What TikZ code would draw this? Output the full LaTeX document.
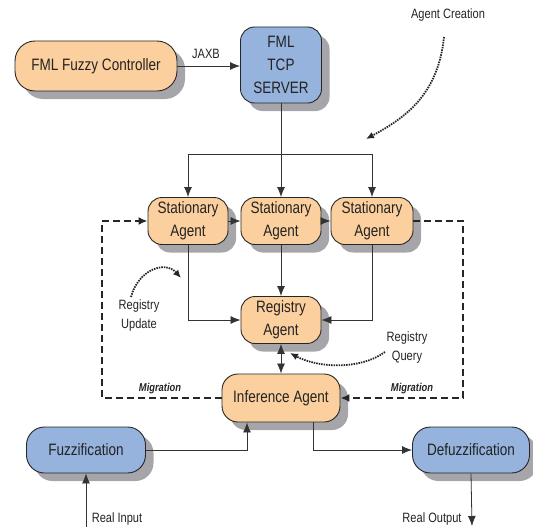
\documentclass[tikz,border=0pt]{standalone}
\usepackage{fontspec}
\setmainfont{Liberation Sans}[FakeStretch=0.82]
\usetikzlibrary{shadows,arrows.meta}
\definecolor{orangefill}{RGB}{252,208,158}
\definecolor{bluefill}{RGB}{149,179,220}
\definecolor{shgray}{RGB}{166,166,170}
\definecolor{txt}{RGB}{35,35,35}
\tikzset{
  box/.style={draw=black!85, line width=0.9pt, rounded corners=14pt, align=center, inner sep=0pt,
    text=txt, font=\fontsize{16.5}{23}\selectfont,
    drop shadow={shadow xshift=8pt, shadow yshift=-8pt, fill=shgray, opacity=1}},
  obox/.style={box, fill=orangefill},
  bbox/.style={box, fill=bluefill},
  conn/.style={draw=black!80, line width=0.8pt, -{Latex[length=10pt,width=8pt]}},
  mig/.style={draw=black!85, line width=1.8pt, dash pattern=on 7pt off 4pt, -{Latex[length=9pt,width=8pt]}},
  dots/.style={draw=black!85, line width=1.8pt, dash pattern=on 1.5pt off 1pt, -{Latex[length=8pt,width=7pt]}},
  lbl/.style={text=txt, font=\fontsize{13.5}{19}\selectfont, align=center, inner sep=0pt},
  miglbl/.style={text=txt, font=\fontsize{11.4}{13}\selectfont\bfseries\itshape, inner sep=0pt}
}
\begin{document}
\begin{tikzpicture}[x=1pt,y=-1pt]
\useasboundingbox (0,0) rectangle (533,527);
% nodes
\node[obox, minimum width=162pt, minimum height=50pt, rounded corners=20pt] (ctrl) at (96,66) {FML Fuzzy Controller};
\node[bbox, minimum width=81pt, minimum height=76pt] (server) at (281,65) {FML\\TCP\\SERVER};
\node[obox, minimum width=80pt, minimum height=47pt] (s1) at (188,221) {Stationary\\Agent};
\node[obox, minimum width=80pt, minimum height=47pt] (s2) at (281,221) {Stationary\\Agent};
\node[obox, minimum width=82pt, minimum height=47pt] (s3) at (372,221) {Stationary\\Agent};
\node[obox, minimum width=80pt, minimum height=47pt] (reg) at (281,320) {Registry\\Agent};
\node[obox, minimum width=118pt, minimum height=48pt, rounded corners=16pt] (inf) at (281,398) {Inference Agent};
\node[bbox, minimum width=119pt, minimum height=46pt, rounded corners=18pt] (fuz) at (86,450) {Fuzzification};
\node[bbox, minimum width=117pt, minimum height=46pt, rounded corners=18pt] (defuz) at (471,450) {Defuzzification};
% labels
\node[lbl] (jaxb) at (206,54) {JAXB};
\node[lbl] (acre) at (448,15) {Agent Creation};
\node[lbl] (rupd) at (139,316) {Registry\\Update};
\node[lbl] (rqry) at (407,348) {Registry\\Query};
\node[miglbl] (mig1) at (160,389) {Migration};
\node[miglbl] (mig2) at (412,389) {Migration};
\node[lbl] (rin) at (117,519) {Real Input};
\node[lbl] (rout) at (432,519) {Real Output};
% coordinates
\coordinate (split) at (281,154);
\coordinate (dl) at (102,398);
\coordinate (dr) at (463,221);
\coordinate (ri) at (86,527);
\coordinate (ro) at (472,526);
\coordinate (ac1) at (444,37);
\coordinate (ac2) at (366,139);
\coordinate (ru1) at (131,297);
\coordinate (ru2) at (181,278);
\coordinate (rq1) at (385,352);
\coordinate (rq2) at (290,353);
% connectors
\draw[conn] (ctrl.east) -- (server.west |- ctrl.east);
\draw[draw=black!80, line width=0.8pt] (server.south) -- (split);
\draw[conn] (split) -| (s1.north);
\draw[conn] (split) -| (s3.north);
\draw[conn] (split) -- (s2.north);
\draw[conn] (s1.east) -- (s2.west);
\draw[conn] (s2.east) -- (s3.west);
\draw[conn] (s2.south) -- (reg.north);
\draw[conn] (s1.south) |- (reg.west);
\draw[conn] (s3.south) |- (reg.east);
\draw[conn, {Latex[length=10pt,width=8pt]}-{Latex[length=10pt,width=8pt]}] (reg.south) -- (inf.north);
\draw[mig] (inf.west) -- (dl) |- (s1.west);
\draw[mig] (s3.east) -- (dr) |- (inf.east);
\draw[conn] (fuz.east) -| ([xshift=-34pt]inf.south);
\draw[conn] ([xshift=32pt]inf.south) |- (defuz.west);
\draw[conn] (ri) -- (fuz.south);
\draw[conn] (defuz.south) -- (ro);
\draw[dots] (ac1) .. controls (438,95) and (405,118) .. (ac2);
\draw[dots] (ru1) .. controls (138,270) and (165,260) .. (ru2);
\draw[dots] (rq1) .. controls (360,370) and (318,368) .. (rq2);
\end{tikzpicture}
\end{document}
